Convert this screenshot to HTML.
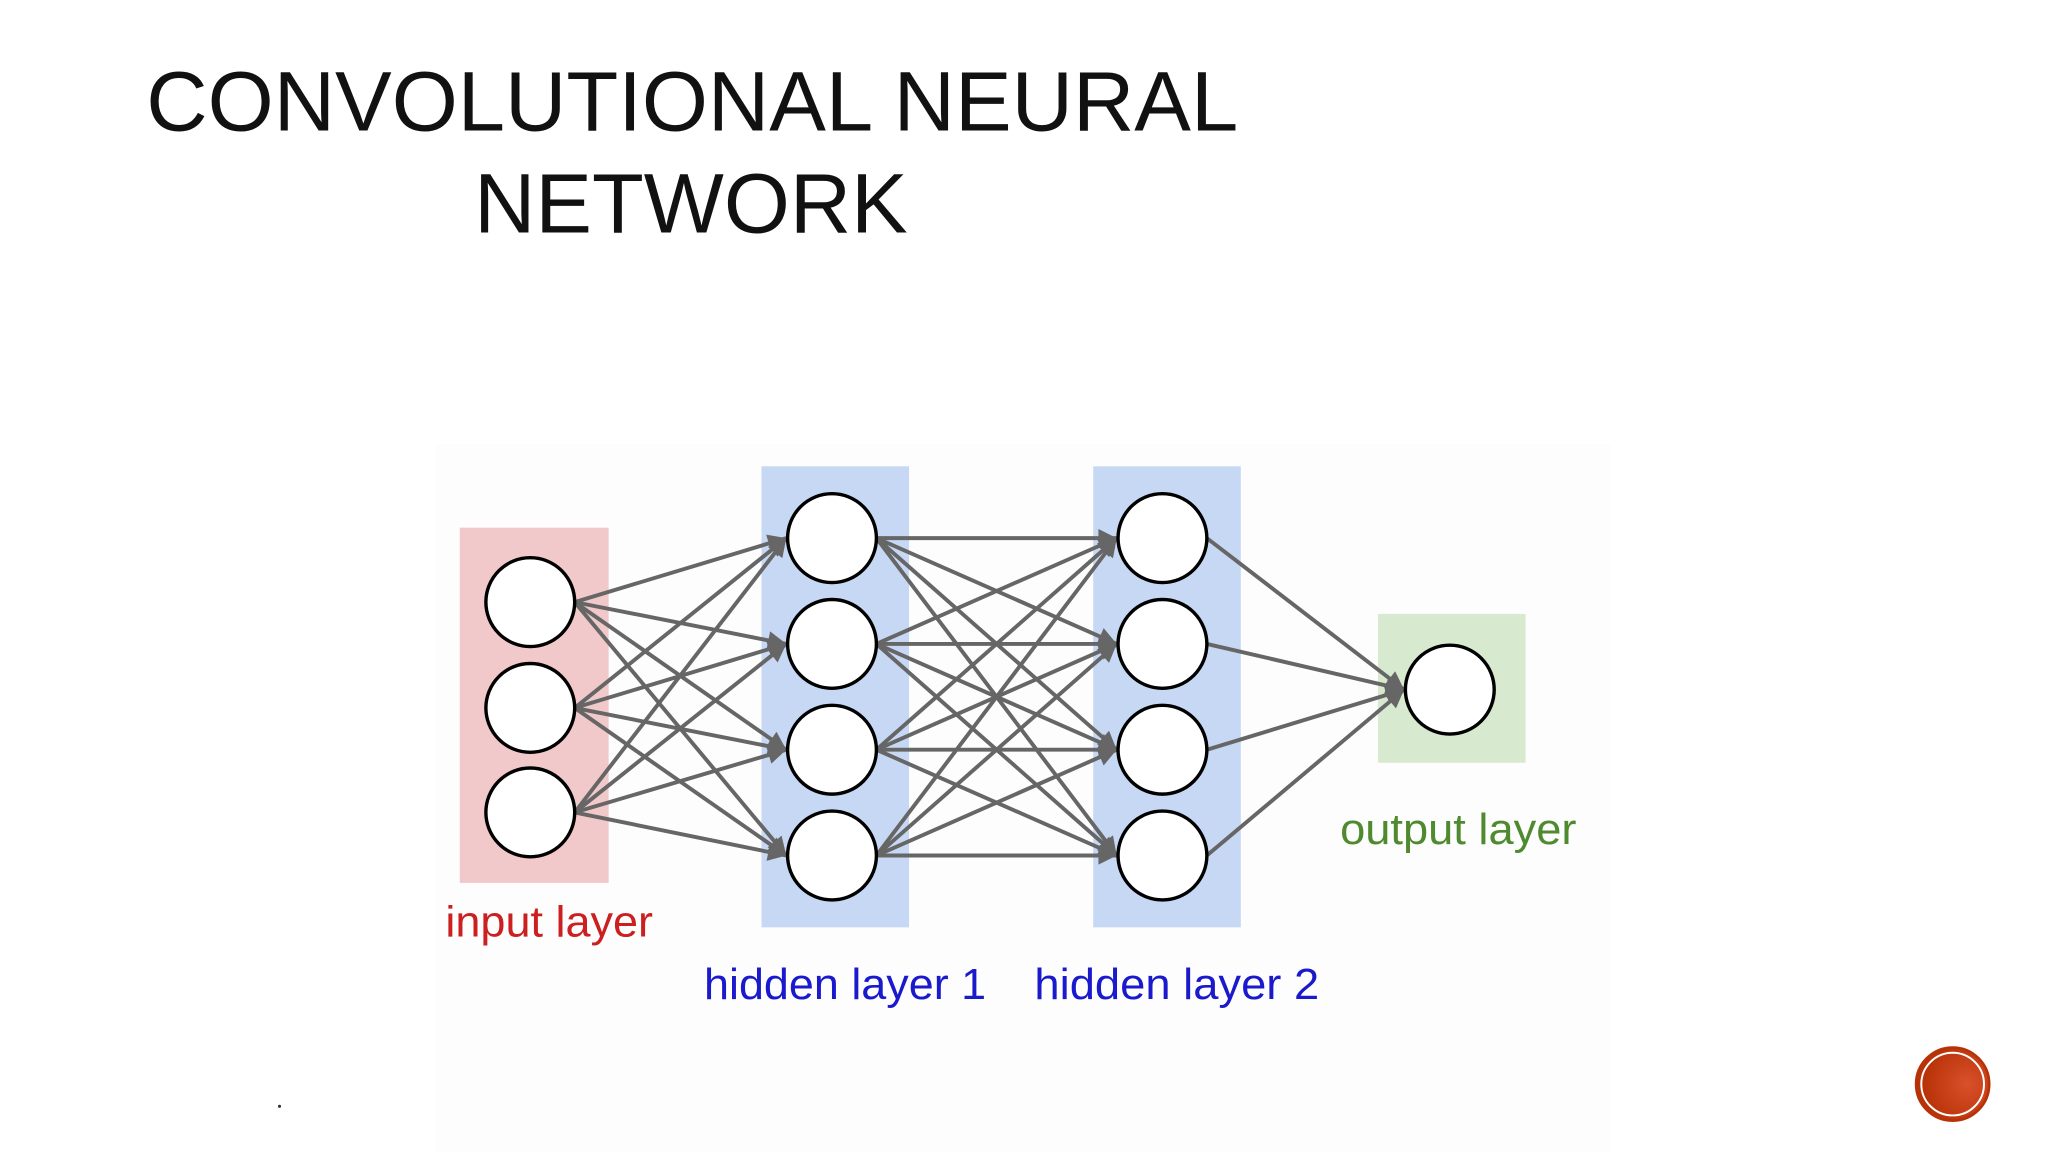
<!DOCTYPE html>
<html><head><meta charset="utf-8"><style>
html,body{margin:0;padding:0;background:#fff;}
svg{display:block}
</style></head><body>
<svg id="s" width="2048" height="1152" viewBox="0 0 1568 882" xmlns="http://www.w3.org/2000/svg">
<defs>
<marker id="b" viewBox="0 0 10 10" markerWidth="16" markerHeight="14" refX="10" refY="5" orient="auto" markerUnits="userSpaceOnUse"><path d="M0,0 L10,5 L0,10 z" fill="#666"/></marker>
<radialGradient id="rg" cx="0.7" cy="0.5" r="0.6"><stop offset="0" stop-color="#d9502a"/><stop offset="1" stop-color="#b83208"/></radialGradient></defs>
<rect x="333" y="340" width="900" height="542" fill="#fdfdfd"/>
<text x="530" y="100" text-anchor="middle" font-family="Liberation Sans, sans-serif" font-size="65" textLength="836" lengthAdjust="spacingAndGlyphs" fill="#111">CONVOLUTIONAL NEURAL</text>
<text x="529" y="178" text-anchor="middle" font-family="Liberation Sans, sans-serif" font-size="65" textLength="332" lengthAdjust="spacingAndGlyphs" fill="#111">NETWORK</text>
<rect x="352" y="404" width="114" height="272" fill="#f2c9cb"/>
<rect x="583" y="357" width="113" height="353" fill="#c6d8f4"/>
<rect x="837" y="357" width="113" height="353" fill="#c6d8f4"/>
<rect x="1055" y="470" width="113" height="114" fill="#d7ead0"/>
<g id="lines" stroke="#666" stroke-width="3" fill="none"></g>
<g id="nodes" fill="#fff" stroke="#000" stroke-width="2.6"></g>
<text x="341" y="717" font-family="Liberation Sans, sans-serif" font-size="33" textLength="159" lengthAdjust="spacingAndGlyphs" fill="#cc1f1f">input layer</text>
<text x="539" y="765" font-family="Liberation Sans, sans-serif" font-size="33" textLength="216" lengthAdjust="spacingAndGlyphs" fill="#1a1acc">hidden layer 1</text>
<text x="792" y="765" font-family="Liberation Sans, sans-serif" font-size="33" textLength="218" lengthAdjust="spacingAndGlyphs" fill="#1a1acc">hidden layer 2</text>
<text x="1026" y="646" font-family="Liberation Sans, sans-serif" font-size="33" textLength="181" lengthAdjust="spacingAndGlyphs" fill="#4f8a2e">output layer</text>
<circle cx="1495" cy="830" r="28" fill="url(#rg)" stroke="#b83208" stroke-width="2"/>
<circle cx="1495" cy="830" r="24" fill="none" stroke="#fff" stroke-width="1.5"/>
<circle cx="214" cy="847" r="1.2" fill="#333"/>
</svg>
<script>
var L=[[406,[461,542,622]],[637,[412,493,574,655]],[890,[412,493,574,655]],[1110,[528]]];
var r=34,ns="http://www.w3.org/2000/svg",lg=document.getElementById('lines'),ng=document.getElementById('nodes');
for(var i=0;i<3;i++){var A=L[i],B=L[i+1];A[1].forEach(function(y1){B[1].forEach(function(y2){
var l=document.createElementNS(ns,'line');l.setAttribute('x1',A[0]+r);l.setAttribute('y1',y1);
l.setAttribute('x2',B[0]-r-1);l.setAttribute('y2',y2);l.setAttribute('marker-end','url(#b)');lg.appendChild(l);});});}
L.forEach(function(c){c[1].forEach(function(y){var e=document.createElementNS(ns,'ellipse');
e.setAttribute('cx',c[0]);e.setAttribute('cy',y);e.setAttribute('rx',r);e.setAttribute('ry',r);ng.appendChild(e);});});
</script>
</body></html>
